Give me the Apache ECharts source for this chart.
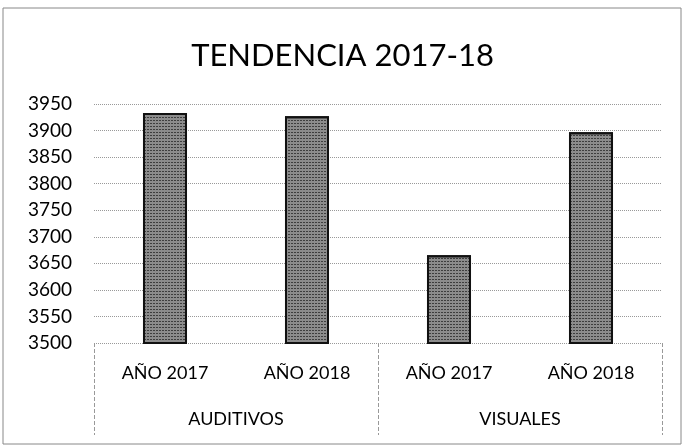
<!DOCTYPE html>
<html lang="es">
<head>
    <meta charset="UTF-8">
    <script src="https://cdn.jsdelivr.net/npm/echarts@6/dist/echarts.min.js"></script>
    <title>Tendencia 2017-18</title>
    <style>
        html, body { margin: 0; padding: 0; background: #fff; }
    </style>
</head>
<body>
<div id="main" style="width: 685px;height:448px;"></div>
<script type="text/javascript">
    // datos
    var categories = ['AÑO 2017', 'AÑO 2018', 'AÑO 2017', 'AÑO 2018'];
    var groups = ['AUDITIVOS', 'VISUALES'];
    var values = [3933, 3927, 3665, 3897];
    var yMin = 3500;
    var yMax = 3950;
    var yStep = 50;

    var myChart = echarts.init(document.getElementById('main'));

    var font = 'Lato, "Open Sans", sans-serif';

    var option = {
        backgroundColor: '#fff',
        animation: false,
        title: {
            text: 'TENDENCIA 2017-18',
            left: 'center',
            top: 35,
            textStyle: { fontFamily: font, fontSize: 31, fontWeight: 'normal', color: '#000' }
        },
        grid: { left: 94, right: 23, top: 104, bottom: 105 },
        xAxis: [{
            type: 'category',
            data: categories,
            position: 'bottom',
            axisLine: { show: false },
            axisTick: { show: false },
            axisLabel: { fontFamily: font, fontSize: 18, color: '#000', margin: 21 }
        }, {
            type: 'category',
            data: groups,
            position: 'bottom',
            axisLine: { show: false },
            axisTick: {
                show: true,
                length: 92,
                lineStyle: { type: 'dashed', color: '#999', width: 1 }
            },
            axisLabel: { fontFamily: font, fontSize: 18, color: '#000', margin: 67 }
        }],
        yAxis: {
            type: 'value',
            min: yMin,
            max: yMax,
            interval: yStep,
            axisLine: { show: false },
            axisTick: { show: false },
            axisLabel: {
                fontFamily: font, fontSize: 19, color: '#000', margin: 22,
                formatter: function (v) { return String(v); }
            },
            splitLine: { lineStyle: { type: 'dotted', color: '#999', width: 1 } }
        },
        series: [{
            name: 'Tendencia',
            type: 'bar',
            xAxisIndex: 0,
            data: values,
            barWidth: '31%',
            itemStyle: {
                color: '#8c8c8c',
                borderColor: '#111',
                borderWidth: 2,
                decal: {
                    symbol: 'rect',
                    symbolSize: 1,
                    dashArrayX: [2, 1],
                    dashArrayY: [1, 2],
                    rotation: 0,
                    color: 'rgba(10,10,10,0.6)'
                }
            }
        }],
        graphic: [{
            type: 'rect',
            shape: { x: 3, y: 8, width: 678, height: 436 },
            style: { fill: 'none', stroke: '#888', lineWidth: 1 }
        }]
    };

    myChart.setOption(option);
</script>
</body>
</html>
